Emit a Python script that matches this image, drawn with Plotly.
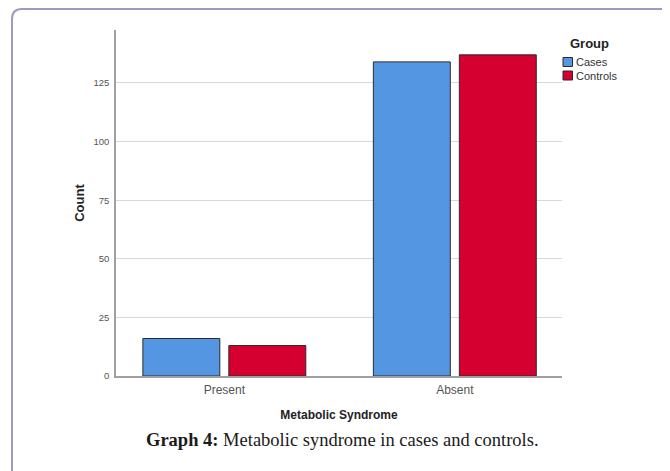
import plotly.graph_objects as go

categories = ["Present", "Absent"]
groups = ["Cases", "Controls"]
cases_counts = [16, 134]
controls_counts = [13, 137]
colors = ["#5596E2", "#D5002F"]
y_ticks = [0, 25, 50, 75, 100, 125]

OFF = 8  # page body margin
W, H = 670 - OFF, 471 - OFF
# plot area in screen px
L, R, T, B = 116, 562, 30, 376

def px(x):
    return (x - L) / (R - L)

def py(y):
    return (B - y) / (B - T)

fig = go.Figure()
for name, vals, col in zip(groups, [cases_counts, controls_counts], colors):
    fig.add_trace(go.Bar(
        x=categories, y=vals, name=name,
        marker=dict(color=col, line=dict(color="#2b2b2b", width=1)),
        showlegend=False,
    ))

fig.update_layout(
    width=W, height=H,
    margin=dict(l=L - OFF, r=670 - R, t=T - OFF, b=471 - B, pad=0),
    paper_bgcolor="white", plot_bgcolor="white",
    barmode="group", bargap=0.254, bargroupgap=0.105,
    font=dict(family="Liberation Sans, Arial, sans-serif", color="#333333"),
    showlegend=False,
    xaxis=dict(
        range=[-0.47, 1.465], showgrid=False, showline=True, linecolor="#a0a0a0",
        linewidth=1.5, ticks="", tickfont=dict(size=12, color="#555555"),
        ticklabelstandoff=2,
        title=dict(text="<b>Metabolic Syndrome</b>", font=dict(size=12, color="#222222"), standoff=14),
        zeroline=False,
    ),
    yaxis=dict(
        range=[0, 147.6], tickvals=y_ticks, showgrid=True, gridcolor="#d9d9d9", gridwidth=1,
        showline=True, linecolor="#a0a0a0", linewidth=1.5, ticks="",
        tickfont=dict(size=9.5, color="#555555"), ticklabelstandoff=3,
        title=dict(text="<b>Count</b>", font=dict(size=13, color="#222222"), standoff=6),
        zeroline=False,
    ),
)

# custom legend
fig.add_annotation(text="<b>Group</b>", xref="paper", yref="paper",
                   x=px(568), y=py(43), xanchor="left", yanchor="middle",
                   showarrow=False, font=dict(size=13, color="#222222"))
for i, (name, col) in enumerate(zip(groups, colors)):
    yc = 62 + 13.5 * i
    fig.add_shape(type="rect", xref="paper", yref="paper",
                  x0=px(563), x1=px(572.5), y0=py(yc + 4.5), y1=py(yc - 4.5),
                  fillcolor=col, line=dict(color="#2b2b2b", width=1))
    fig.add_annotation(text=name, xref="paper", yref="paper",
                       x=px(574), y=py(yc), xanchor="left", yanchor="middle",
                       showarrow=False, font=dict(size=11, color="#333333"))

# outer frame (rounded top-left corner)
x0, x1 = px(12), px(680)
yb, yt = py(480), py(9)
fig.add_shape(
    type="path", xref="paper", yref="paper",
    path=f"M {x0} {yb} L {x0} {py(19)} Q {x0} {yt} {px(22)} {yt} L {x1} {yt}",
    line=dict(color="#9b9bc2", width=2), layer="below",
)

fig.add_annotation(
    text="<b>Graph 4:</b> Metabolic syndrome in cases and controls.",
    xref="paper", yref="paper", x=px(342.5), y=py(440),
    xanchor="center", yanchor="middle", showarrow=False,
    font=dict(family="Liberation Serif, Times New Roman, serif", size=18.5, color="#1a1a1a"),
)

fig.write_html("out.html")
